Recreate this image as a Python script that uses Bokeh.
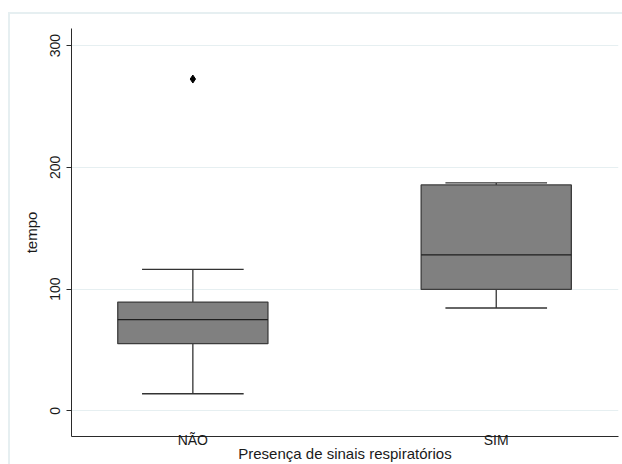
from bokeh.plotting import figure
from bokeh.models import Range1d, FixedTicker
from bokeh.embed import file_html
from bokeh.resources import INLINE

# data
categories = ["NÃO", "SIM"]
q1 = [55.2, 99.8]
median = [75.0, 128.1]
q3 = [89.4, 185.6]
lower_whisker = [14.1, 84.5]
upper_whisker = [116.3, 187.2]
outlier_cat = ["NÃO"]
outlier_val = [272.5]
y_ticks = [0, 100, 200, 300]

xpos = [i + 1 for i in range(len(categories))]
out_x = [categories.index(c) + 1 for c in outlier_cat]
box_w = 0.495
cap_w = 0.335

p = figure(width=622, height=464, output_backend="svg", toolbar_location=None,
           x_range=Range1d(0.6, 2.403), y_range=Range1d(-21, 314),
           min_border_left=71, min_border_right=4, min_border_top=28, min_border_bottom=28,
           background_fill_color="white", border_fill_color="white", border_fill_alpha=0)
p.outline_line_color = None
p.styles = {"background-color": "white",
            "box-shadow": "inset 8px 12px 0 0 white, inset 10px 14px 0 0 #E6EFF1"}

FONT = "Liberation Sans"
TXT = "#1a1a1a"
AX = "#2a2a2a"

# grid
p.xgrid.visible = False
p.ygrid.ticker = FixedTicker(ticks=y_ticks)
p.ygrid.grid_line_color = "#E6EFF1"
p.ygrid.grid_line_width = 1

# y axis
ya = p.yaxis[0]
ya.ticker = FixedTicker(ticks=y_ticks)
ya.axis_label = "tempo"
ya.major_label_orientation = "vertical"
ya.major_tick_out = 5
ya.major_tick_in = 0
ya.minor_tick_out = 0
ya.minor_tick_in = 0
ya.major_label_standoff = 6
ya.axis_label_standoff = 8
ya.major_label_text_font = FONT
ya.major_label_text_font_size = "14px"
ya.major_label_text_color = TXT
ya.axis_label_text_font = FONT
ya.axis_label_text_font_size = "15px"
ya.axis_label_text_font_style = "normal"
ya.axis_label_text_color = TXT
ya.axis_line_color = AX
ya.major_tick_line_color = AX

# x axis
xa = p.xaxis[0]
xa.ticker = FixedTicker(ticks=xpos)
xa.major_label_overrides = {x: c for x, c in zip(xpos, categories)}
xa.axis_label = "Presença de sinais respiratórios"
xa.major_tick_out = 0
xa.major_tick_in = 0
xa.minor_tick_out = 0
xa.minor_tick_in = 0
xa.major_label_standoff = -5
xa.axis_label_standoff = -6
xa.major_label_text_font = FONT
xa.major_label_text_font_size = "14px"
xa.major_label_text_color = TXT
xa.axis_label_text_font = FONT
xa.axis_label_text_font_size = "15px"
xa.axis_label_text_font_style = "normal"
xa.axis_label_text_color = TXT
xa.axis_line_color = AX

# whiskers
p.segment(x0=xpos, x1=xpos, y0=q3, y1=upper_whisker, line_color="#333333", line_width=1.3)
p.segment(x0=xpos, x1=xpos, y0=q1, y1=lower_whisker, line_color="#333333", line_width=1.3)
p.segment(x0=[x - cap_w / 2 for x in xpos], x1=[x + cap_w / 2 for x in xpos],
          y0=upper_whisker, y1=upper_whisker, line_color="#333333", line_width=1.3)
p.segment(x0=[x - cap_w / 2 for x in xpos], x1=[x + cap_w / 2 for x in xpos],
          y0=lower_whisker, y1=lower_whisker, line_color="#333333", line_width=1.3)

# boxes
p.vbar(x=xpos, width=box_w, bottom=q1, top=q3, fill_color="#808080",
       line_color="#3c3c3c", line_width=1.3)
# medians
p.segment(x0=[x - box_w / 2 for x in xpos], x1=[x + box_w / 2 for x in xpos],
          y0=median, y1=median, line_color="#1e1e1e", line_width=1.3)

# outliers
p.scatter(x=out_x, y=outlier_val, marker="diamond", size=8, fill_color="black", line_color="black")

open("out.html", "w").write(file_html(p, INLINE))
